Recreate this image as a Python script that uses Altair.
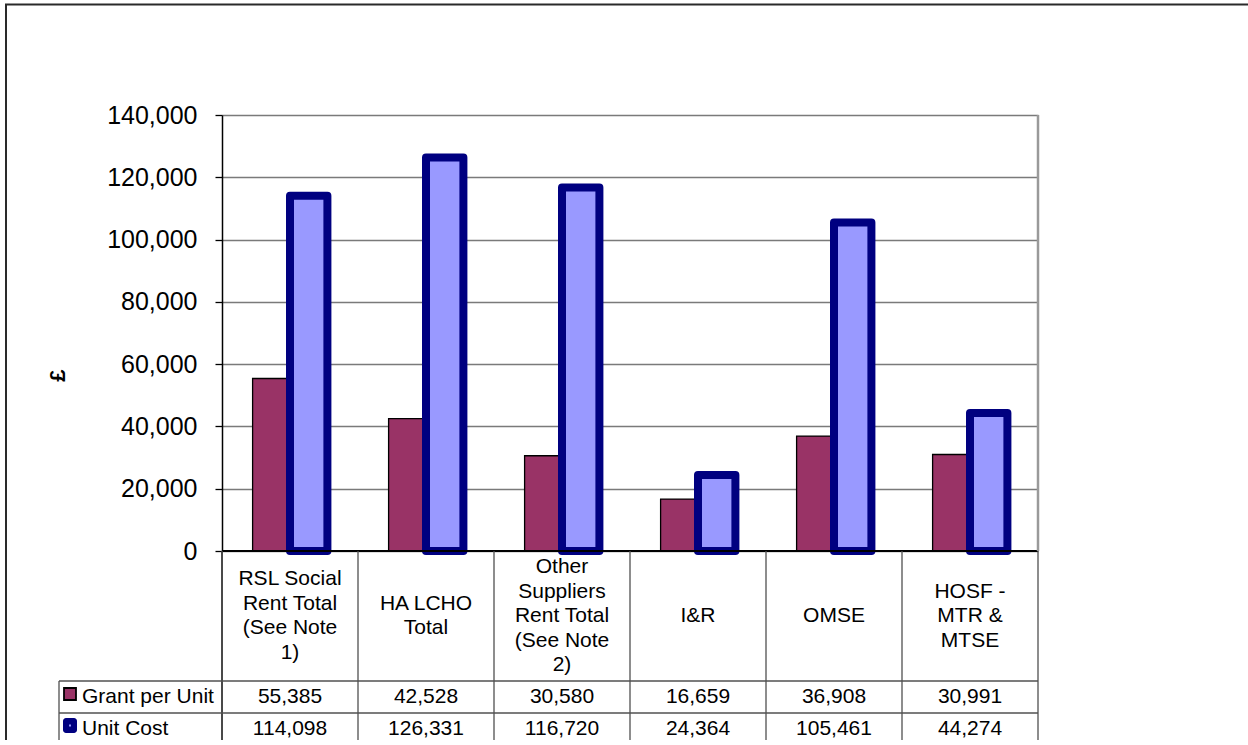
import altair as alt
import pandas as pd

# ---------------- data ----------------
categories = [
    "RSL Social Rent Total (See Note 1)",
    "HA LCHO Total",
    "Other Suppliers Rent Total (See Note 2)",
    "I&R",
    "OMSE",
    "HOSF - MTR & MTSE",
]
category_labels = [
    "RSL Social\nRent Total\n(See Note\n1)",
    "HA LCHO\nTotal",
    "Other\nSuppliers\nRent Total\n(See Note\n2)",
    "I&R",
    "OMSE",
    "HOSF -\nMTR &\nMTSE",
]
series = ["Grant per Unit", "Unit Cost"]
grant_per_unit = [55385, 42528, 30580, 16659, 36908, 30991]
unit_cost = [114098, 126331, 116720, 24364, 105461, 44274]
y_ticks = [0, 20000, 40000, 60000, 80000, 100000, 120000, 140000]
y_title = "£"

rows = []
for c, g, u in zip(categories, grant_per_unit, unit_cost):
    rows.append({"category": c, "series": series[0], "value": g})
    rows.append({"category": c, "series": series[1], "value": u})
df = pd.DataFrame(rows)
cat_df = pd.DataFrame({"category": categories, "label": category_labels})
ser_df = pd.DataFrame({"series": series})
one = pd.DataFrame({"k": [0]})

# ---------------- layout ----------------
FONT = "Liberation Sans, Arial, sans-serif"
W = 816          # plot width
PH = 436         # plot (bar) height
H = 625          # plot + table height
ROW1 = 566       # bottom of category-label row
ROW2 = 598       # bottom of grant row
LBL_X = -163     # left edge of row-label column
LINE = "#505050"
LH = 24.5        # line height of category labels

x_scale = alt.Scale(domain=categories, paddingInner=0, paddingOuter=0)
xo_scale = alt.Scale(domain=series, paddingInner=0, paddingOuter=0.818)
y_scale = alt.Scale(domain=[0, 140000], range=[PH, 0], nice=False, zero=True)

X = alt.X("category:N", scale=x_scale, axis=None, sort=categories)
XO = alt.XOffset("series:N", scale=xo_scale, sort=series)

y_axis = alt.Axis(
    values=y_ticks, format=",.0f", labelFont=FONT, labelFontSize=25, labelColor="#000000",
    tickColor="#000000", tickSize=7, tickWidth=1.3, labelPadding=18,
    domain=True, domainColor="#000000", domainWidth=1.5,
    grid=True, gridColor="#7a7a7a", gridWidth=1.5,
    title=y_title, titleFont=FONT, titleFontSize=22, titleFontWeight="bold",
    titleColor="#000000", titleX=-165, titleY=260, titleAlign="center",
    titleBaseline="middle",
)

grant_bars = alt.Chart(df).transform_filter(
    alt.datum.series == series[0]
).mark_bar(fill="#993366", stroke="#000000", strokeWidth=1.3).encode(
    x=X, xOffset=XO,
    y=alt.Y("value:Q", scale=y_scale, axis=y_axis),
)

cost_bars = alt.Chart(df).transform_filter(
    alt.datum.series == series[1]
).mark_bar(fill="#9999FF", stroke="#000080", strokeWidth=8, strokeJoin="round").encode(
    x=X, xOffset=XO,
    y=alt.Y("value:Q", scale=y_scale),
)


def hrule(y, x1, x2, color=LINE, w=1.3):
    return alt.Chart(one).mark_rule(color=color, strokeWidth=w).encode(
        x=alt.value(x1), x2=alt.value(x2), y=alt.value(y))


def vrule(x, y1, y2, color=LINE, w=1.3):
    return alt.Chart(one).mark_rule(color=color, strokeWidth=w).encode(
        x=alt.value(x), y=alt.value(y1), y2=alt.value(y2))


frame = [
    vrule(0, PH, H, "#000000", 1.5),
    hrule(PH, 0, W, "#000000", 2),
    vrule(W, 0, PH, "#9a9a9a", 2.5),
    vrule(W, PH, H, LINE, 1.3),
    hrule(ROW1, LBL_X, W),
    hrule(ROW2, LBL_X, W),
    vrule(LBL_X, ROW1, H),
    hrule(-110.5, -217, 1100, "#2a2a2a", 2),
    vrule(-216, -111, H, "#2a2a2a", 2),
]

separators = alt.Chart(cat_df).mark_rule(color=LINE, strokeWidth=1.3).encode(
    x=alt.X("category:N", scale=x_scale, axis=None, bandPosition=0),
    y=alt.value(PH), y2=alt.value(H),
)

cat_text = alt.Chart(cat_df).mark_text(
    font=FONT, fontSize=21, lineBreak="\n", lineHeight=LH,
    align="center", baseline="middle", color="#000000",
    dy=alt.expr(f"-(length(split(datum.label, '\\n')) - 1) * {LH / 2}"),
).encode(x=X, y=alt.value(501), text="label:N")

grant_text = alt.Chart(df).transform_filter(
    alt.datum.series == series[0]
).mark_text(font=FONT, fontSize=21, align="center", baseline="middle", color="#000000").encode(
    x=X, y=alt.value(582), text=alt.Text("value:Q", format=","))

cost_text = alt.Chart(df).transform_filter(
    alt.datum.series == series[1]
).mark_text(font=FONT, fontSize=21, align="center", baseline="middle", color="#000000").encode(
    x=X, y=alt.value(614), text=alt.Text("value:Q", format=","))

grant_label = alt.Chart(ser_df).transform_filter(
    alt.datum.series == series[0]
).mark_text(font=FONT, fontSize=21, align="left", baseline="middle", color="#000000").encode(
    x=alt.value(-140), y=alt.value(582), text="series:N")

cost_label = alt.Chart(ser_df).transform_filter(
    alt.datum.series == series[1]
).mark_text(font=FONT, fontSize=21, align="left", baseline="middle", color="#000000").encode(
    x=alt.value(-140), y=alt.value(614), text="series:N")

grant_key = alt.Chart(ser_df).transform_filter(
    alt.datum.series == series[0]
).mark_rect(fill="#993366", stroke="#000000", strokeWidth=1.8).encode(
    x=alt.value(-158), x2=alt.value(-146), y=alt.value(573), y2=alt.value(585))

cost_key = alt.Chart(ser_df).transform_filter(
    alt.datum.series == series[1]
).mark_rect(fill="#000080", cornerRadius=3).encode(
    x=alt.value(-159), x2=alt.value(-145), y=alt.value(603), y2=alt.value(618))

cost_key_dot = alt.Chart(ser_df).transform_filter(
    alt.datum.series == series[1]
).mark_point(shape="square", filled=True, color="#9999FF", size=4, opacity=1).encode(
    x=alt.value(-152), y=alt.value(610.5))

chart = alt.layer(
    grant_bars, cost_bars, *frame, separators, cat_text, grant_text, cost_text,
    grant_label, cost_label, grant_key, cost_key, cost_key_dot,
).properties(
    width=W, height=H,
    autosize=alt.AutoSizeParams(type="none"),
    padding={"left": 222, "top": 115, "right": 210, "bottom": 0},
).configure_view(strokeWidth=0)

chart.save("out.html", embed_options={"renderer": "svg", "actions": False})
